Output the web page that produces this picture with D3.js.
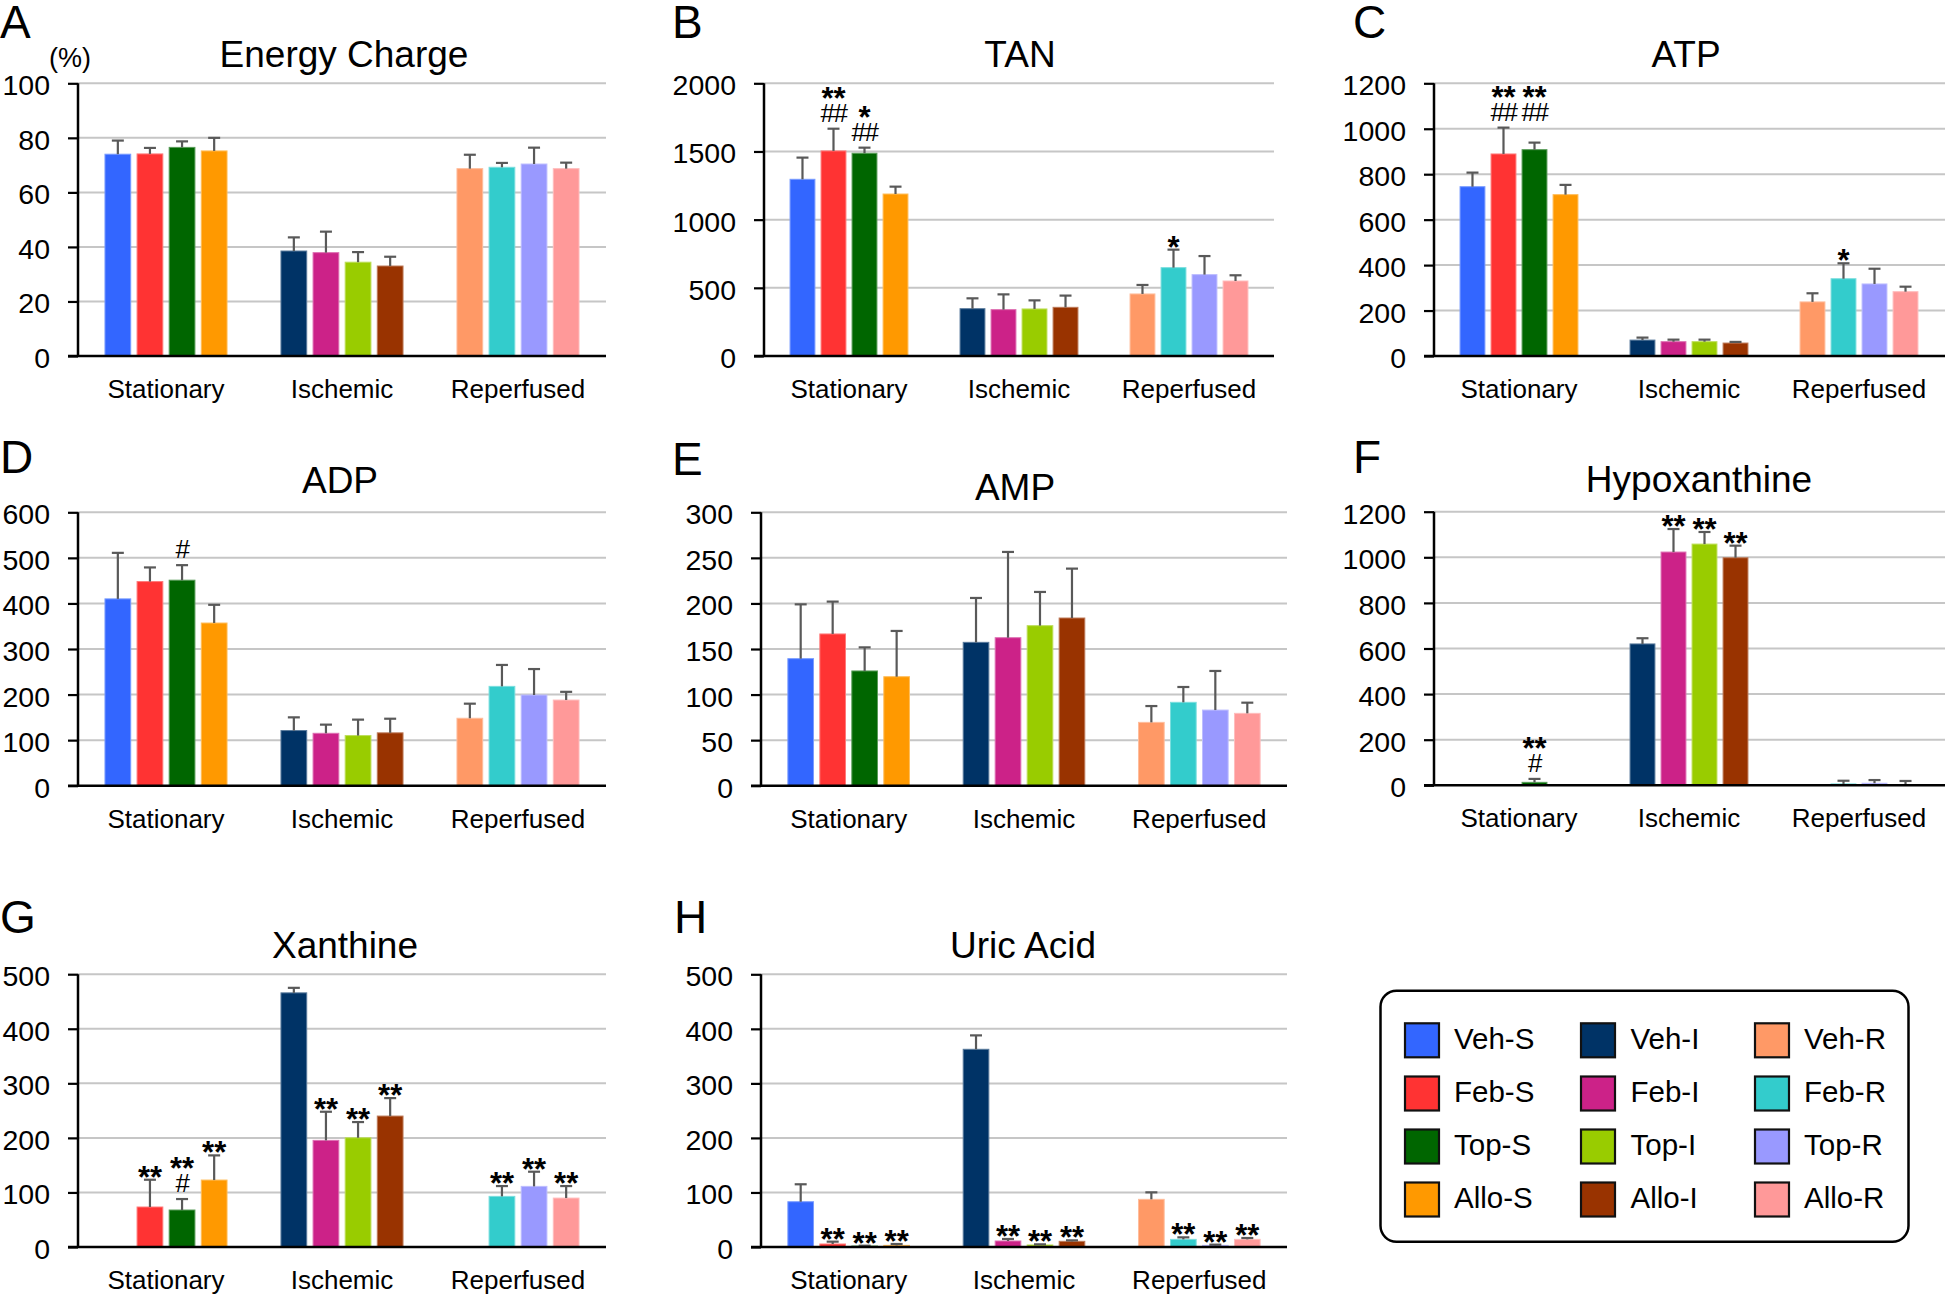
<!DOCTYPE html>
<html>
<head>
<meta charset="utf-8">
<script src="https://cdn.jsdelivr.net/npm/d3@7"></script>
<style>
  html, body { margin: 0; padding: 0; background: #fff; }
  svg text { font-family: "Liberation Sans", Arial, Helvetica, sans-serif; fill: #000; }
</style>
</head>
<body>
<svg id="chart" width="1945" height="1296"></svg>
<script>
// ---------------- DATA ----------------
const categories = ["Stationary", "Ischemic", "Reperfused"];
const treatments = ["Veh", "Feb", "Top", "Allo"];
const legendLabels = [
  ["Veh-S", "Feb-S", "Top-S", "Allo-S"],
  ["Veh-I", "Feb-I", "Top-I", "Allo-I"],
  ["Veh-R", "Feb-R", "Top-R", "Allo-R"]
];
const groupColors = [
  ["#3366ff", "#ff3333", "#006600", "#ff9900"],
  ["#003366", "#cc2288", "#99cc00", "#993300"],
  ["#ff9966", "#33cccc", "#9999ff", "#ff9999"]
];

// means [group][treatment] and error (SEM) [group][treatment]
const energyMean = [[74.0, 74.1, 76.5, 75.2], [38.5, 37.9, 34.4, 33.0], [68.7, 69.2, 70.4, 68.7]];
const energyErr  = [[5.0, 2.2, 2.2, 4.8], [5.0, 7.7, 3.7, 3.4], [5.1, 1.6, 6.0, 2.2]];
const energySig  = [["", "", "", ""], ["", "", "", ""], ["", "", "", ""]];

const tanMean = [[1296, 1504, 1487, 1188], [347, 340, 345, 357], [455, 648, 597, 550]];
const tanErr  = [[159, 163, 41, 54], [76, 112, 63, 86], [66, 132, 136, 42]];
const tanSig  = [["", "**|##", "*|##", ""], ["", "", "", ""], ["", "*", "", ""]];

const atpMean = [[745, 889, 908, 710], [70, 63, 63, 57], [238, 340, 317, 283]];
const atpErr  = [[62, 116, 31, 43], [11, 9, 9, 5], [38, 68, 67, 22]];
const atpSig  = [["", "**|##", "**|##", ""], ["", "", "", ""], ["", "*", "", ""]];

const adpMean = [[410, 448, 451, 357], [121, 115, 110, 116], [148, 218, 199, 188]];
const adpErr  = [[101, 31, 33, 40], [29, 19, 35, 31], [32, 47, 57, 18]];
const adpSig  = [["", "", "#", ""], ["", "", "", ""], ["", "", "", ""]];

const ampMean = [[139.4, 166.5, 125.9, 119.6], [157.3, 162.4, 175.6, 184.0], [69.5, 91.5, 83.0, 79.4]];
const ampErr  = [[59.6, 35.5, 25.9, 50.2], [48.7, 94.1, 37.0, 54.2], [17.9, 16.8, 42.9, 11.7]];
const ampSig  = [["", "", "", ""], ["", "", "", ""], ["", "", "", ""]];

const hypoMean = [[0, 0, 13, 0], [620, 1023, 1058, 998], [0, 6, 9, 3]];
const hypoErr  = [[0, 0, 15, 0], [25, 101, 53, 53], [0, 14, 14, 16]];
const hypoSig  = [["", "", "**|#", ""], ["", "**", "**", "**"], ["", "", "", ""]];

const xanMean = [[0, 73.3, 67.8, 122.7], [465.8, 195.4, 200.2, 240.0], [0, 92.8, 111.1, 89.7]];
const xanErr  = [[0, 50.0, 20.1, 45.2], [9.2, 52.5, 28.8, 32.9], [0, 18.9, 26.9, 22.0]];
const xanSig  = [["", "**", "**|#", "**"], ["", "**", "**", "**"], ["", "**", "**", "**"]];

const uricMean = [[83.0, 5.5, 1.8, 3.0], [362.5, 11.0, 3.7, 10.4], [87.4, 14.0, 3.0, 14.0]];
const uricErr  = [[32.0, 4.3, 0.6, 2.5], [25.5, 3.7, 1.2, 1.8], [12.8, 3.7, 1.3, 2.5]];
const uricSig  = [["", "**", "**", "**"], ["", "**", "**", "**"], ["", "**", "**", "**"]];

const panelTitles = ["Energy Charge", "TAN", "ATP", "ADP", "AMP", "Hypoxanthine", "Xanthine", "Uric Acid"];
const panelLetters = ["A", "B", "C", "D", "E", "F", "G", "H"];
const panelMax = [100, 2000, 1200, 600, 300, 1200, 500, 500];
const panelStep = [20, 500, 200, 100, 50, 200, 100, 100];
const panelMeans = [energyMean, tanMean, atpMean, adpMean, ampMean, hypoMean, xanMean, uricMean];
const panelErrs = [energyErr, tanErr, atpErr, adpErr, ampErr, hypoErr, xanErr, uricErr];
const panelSigs = [energySig, tanSig, atpSig, adpSig, ampSig, hypoSig, xanSig, uricSig];

// ---------------- LAYOUT ----------------
const layout = [
  { x0: 78,   x1: 606,  gx1: 606,  top: 83.3,  base: 356,   tx: 344,  ty: 66.7,  lx: 0,    ly: 38 },
  { x0: 764,  x1: 1274, gx1: 1274, top: 83.3,  base: 356,   tx: 1020, ty: 66.7,  lx: 672,  ly: 38 },
  { x0: 1434, x1: 1944, gx1: 1945, top: 83.3,  base: 356,   tx: 1686, ty: 66.7,  lx: 1353, ly: 38, lift: { "0-2": 15 } },
  { x0: 78,   x1: 606,  gx1: 606,  top: 512.3, base: 785.7, tx: 340,  ty: 493.3, lx: 0,    ly: 473 },
  { x0: 761,  x1: 1287, gx1: 1287, top: 512.3, base: 785.7, tx: 1015, ty: 500,   lx: 672,  ly: 475 },
  { x0: 1434, x1: 1944, gx1: 1945, top: 511.7, base: 785.3, tx: 1699, ty: 491.7, lx: 1353, ly: 473 },
  { x0: 78,   x1: 606,  gx1: 606,  top: 974.2, base: 1247,  tx: 345,  ty: 958.3, lx: 0,    ly: 933 },
  { x0: 761,  x1: 1287, gx1: 1287, top: 974.3, base: 1247,  tx: 1023, ty: 958.3, lx: 674,  ly: 933 }
];

const svg = d3.select("#chart");
const gridColor = "#c6c6c6";
const errColor = "#595959";

panelTitles.forEach((title, p) => {
  const L = layout[p];
  const g = svg.append("g");
  const y = d3.scaleLinear().domain([0, panelMax[p]]).range([L.base, L.top]);
  const x = d3.scaleBand().domain(categories).range([L.x0, L.x1]).paddingInner(0).paddingOuter(0);
  const xi = d3.scaleBand().domain(treatments).range([0, x.bandwidth()]).paddingInner(0.198).paddingOuter(0.84);
  const ticks = d3.range(0, panelMax[p] + panelStep[p] / 2, panelStep[p]);

  // gridlines
  g.selectAll("line.grid").data(ticks.filter(t => t > 0)).join("line")
    .attr("x1", L.x0).attr("x2", L.gx1)
    .attr("y1", d => y(d)).attr("y2", d => y(d))
    .attr("stroke", gridColor).attr("stroke-width", 2);

  // y axis via d3
  const axis = d3.axisLeft(y).tickValues(ticks).tickSize(10).tickPadding(18).tickFormat(d3.format("d"));
  const ax = g.append("g").attr("transform", `translate(${L.x0},0)`).call(axis);
  ax.select(".domain").attr("stroke", "#000").attr("stroke-width", 2.5).attr("d", `M0,${L.top}V${L.base}`);
  ax.selectAll(".tick line").attr("stroke", "#000").attr("stroke-width", 2.2);
  ax.selectAll(".tick text").attr("font-size", 28.5).attr("fill", "#000")
    .attr("dy", null).attr("dominant-baseline", "auto").attr("y", 11.5)
    .style("font-family", '"Liberation Sans", Arial, sans-serif');

  // bars
  categories.forEach((cat, gi) => {
    treatments.forEach((tr, ti) => {
      const v = panelMeans[p][gi][ti];
      const e = panelErrs[p][gi][ti];
      const bx = x(cat) + xi(tr);
      const bw = xi.bandwidth();
      const col = groupColors[gi][ti];
      if (v > 0) {
        g.append("rect")
          .attr("x", bx).attr("y", y(v))
          .attr("width", bw).attr("height", Math.max(0, L.base - y(v)))
          .attr("fill", col)
          .attr("stroke", d3.interpolateRgb(col, "#ffffff")(0.35)).attr("stroke-width", 1);
      }
      if (e > 0) {
        const cx = bx + bw / 2;
        g.append("line").attr("x1", cx).attr("x2", cx).attr("y1", y(v)).attr("y2", y(v + e))
          .attr("stroke", errColor).attr("stroke-width", 2.2);
        g.append("line").attr("x1", cx - 6).attr("x2", cx + 6).attr("y1", y(v + e)).attr("y2", y(v + e))
          .attr("stroke", errColor).attr("stroke-width", 2.2);
      }
      const sig = panelSigs[p][gi][ti];
      if (sig) {
        const lines = sig.split("|");
        const lift = (L.lift && L.lift[gi + "-" + ti]) || 0;
        const cx = bx + bw / 2;
        let center = y(v + e) - lift;
        const pos = [];
        for (let k = lines.length - 1; k >= 0; k--) {
          const s = lines[k];
          const isHash = s.indexOf("#") >= 0;
          const fs = isHash ? 26 : 31;
          center -= (k === lines.length - 1) ? (isHash ? 16 : 10) : 22;
          pos[k] = { s, isHash, fs, baseY: center + (isHash ? 0.35 : 0.58) * fs };
        }
        const t = g.append("text").attr("text-anchor", "middle");
        pos.forEach(d => {
          t.append("tspan").attr("x", cx).attr("y", d.baseY)
            .attr("font-size", d.fs)
            .attr("font-weight", d.isHash ? "normal" : "bold")
            .attr("letter-spacing", d.isHash ? -1.5 : 0)
            .text(d.s);
        });
      }
    });
  });

  // baseline
  g.append("line").attr("x1", L.x0 - 10).attr("x2", L.gx1).attr("y1", L.base).attr("y2", L.base)
    .attr("stroke", "#000").attr("stroke-width", 2.5);

  // x labels
  g.selectAll("text.xl").data(categories).join("text")
    .attr("x", d => x(d) + x.bandwidth() / 2).attr("y", L.base + 42)
    .attr("text-anchor", "middle").attr("font-size", 26).text(d => d);

  // title
  g.append("text").attr("x", L.tx).attr("y", L.ty).attr("text-anchor", "middle")
    .attr("font-size", 37).text(title);

  // panel letter
  g.append("text").attr("x", L.lx).attr("y", L.ly).attr("font-size", 46).text(panelLetters[p]);

  if (p === 0) {
    g.append("text").attr("x", 49).attr("y", 67).attr("font-size", 27).text("(%)");
  }
});

// ---------------- LEGEND ----------------
const leg = svg.append("g");
leg.append("rect").attr("x", 1380.5).attr("y", 990.7).attr("width", 528).attr("height", 251)
  .attr("rx", 16).attr("ry", 16).attr("fill", "none").attr("stroke", "#000").attr("stroke-width", 2.5);
const colX = [1405, 1581, 1755];
const textX = [1454, 1630.5, 1804];
const rowY = [1023.3, 1076.5, 1129.5, 1182.5];
legendLabels.forEach((col, ci) => {
  col.forEach((lab, ri) => {
    leg.append("rect").attr("x", colX[ci]).attr("y", rowY[ri]).attr("width", 34).attr("height", 34)
      .attr("fill", groupColors[ci][ri]).attr("stroke", "#111").attr("stroke-width", 2.2);
    leg.append("text").attr("x", textX[ci]).attr("y", rowY[ri] + 25.5)
      .attr("font-size", 29.5).text(lab);
  });
});
</script>
</body>
</html>
